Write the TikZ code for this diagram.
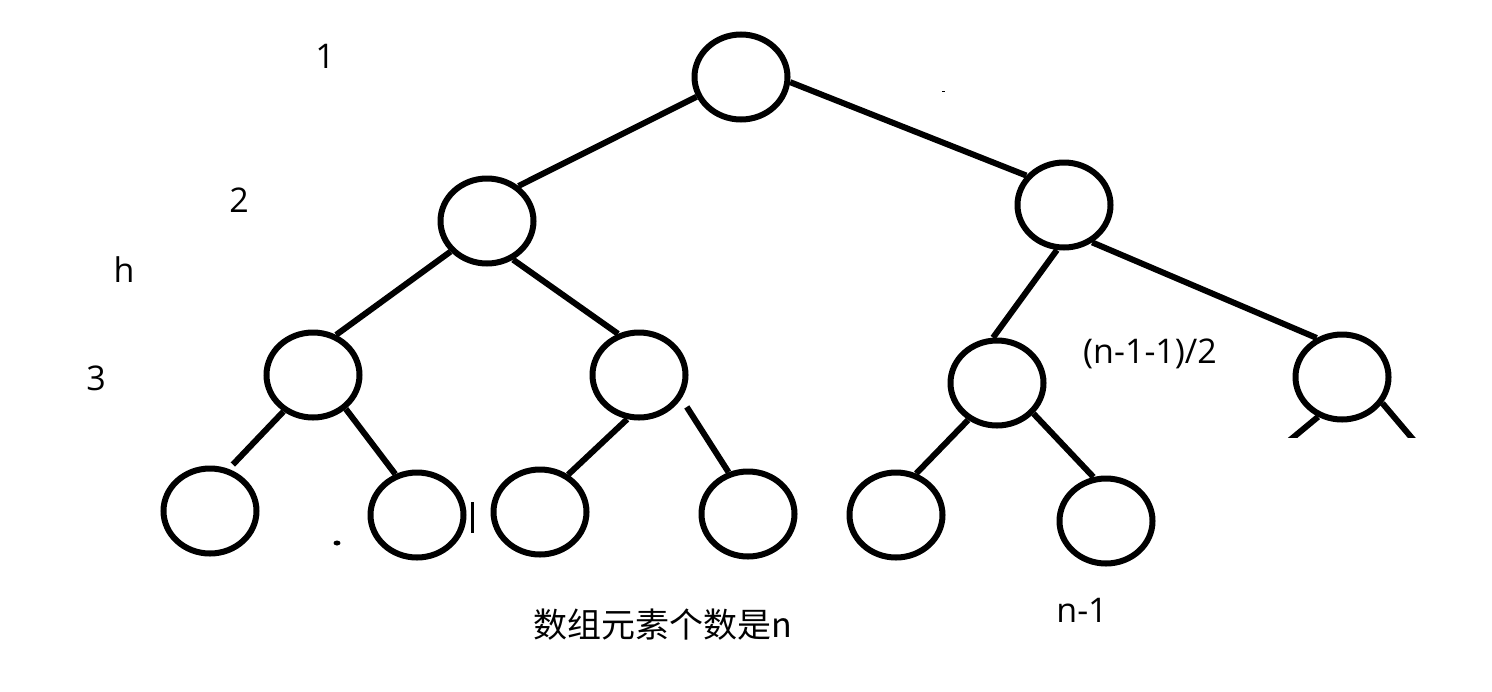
\documentclass[tikz,border=0pt]{standalone}
\usepackage{fontspec}
\setmainfont{Open Sans}
\newfontfamily\cjk{Noto Sans CJK SC}
\usetikzlibrary{shapes.geometric}
\begin{document}
\begin{tikzpicture}[x=0.5pt,y=-0.5pt,
  treenode/.style={ellipse,draw=black,line width=3pt,minimum width=46.5pt,minimum height=42.5pt,inner sep=0pt},
  edge/.style={draw=black,line width=3pt},
  lbl/.style={font=\fontsize{17}{20}\selectfont,anchor=base,inner sep=0pt,text=black}]
\useasboundingbox (0,0) rectangle (1492,691);
\fill[white] (0,0) rectangle (1492,691);
% nodes
\node[treenode] (r) at (741,77) {};
\node[treenode] (a) at (487,221) {};
\node[treenode] (b) at (1064,205) {};
\node[treenode] (c) at (313,375) {};
\node[treenode] (d) at (639,375) {};
\node[treenode] (e) at (997,383) {};
\node[treenode] (f) at (1342,377) {};
\node[treenode] (g) at (210,511) {};
\node[treenode] (h) at (417,515) {};
\node[treenode] (i) at (540,512) {};
\node[treenode] (j) at (748,514) {};
\node[treenode] (k) at (896,515) {};
\node[treenode] (l) at (1106,521) {};
% edges
\draw[edge] (r.204) -- (a.48);
\draw[edge] (r.354) -- (b.142);
\draw[edge] (a.220) -- (c.60);
\draw[edge] (a.304) -- (d.117);
\draw[edge] (b.261) -- (e.95);
\draw[edge] (b.307) -- (f.123);
\draw[edge,shorten >=3pt] (c.231) -- (g.66);
\draw[edge] (c.314) -- (h.118);
\draw[edge] (d.255) -- (i.53);
\draw[edge,shorten <=5pt] (d.331) -- (j.115);
\draw[edge] (e.232) -- (k.64);
\draw[edge] (e.320) -- (l.106);
% stubs below the far right node, cut off flat
\coordinate (fl) at (1278,450);
\coordinate (fr) at (1422,450);
\begin{scope}
\clip (0,0) rectangle (1492,437);
\draw[edge] (f.239) -- (fl);
\draw[edge] (f.327) -- (fr);
\end{scope}
% small marks
\fill[black] (337,543) ellipse [x radius=3.5, y radius=2.5];
\fill[black] (470.5,502) rectangle (473.5,533);
\fill[black] (942,90.5) rectangle (945,92);
% labels
\node[lbl] (t1) at (325,68) {1};
\node[lbl] (t2) at (239,212) {2};
\node[lbl] (th) at (124,282) {h};
\node[lbl] (t3) at (96,390) {3};
\node[lbl] (tn) at (1150,363) {(n-1-1)/2};
\node[lbl] (tn1) at (1082,622) {n-1};
\node[lbl] (tc) at (663,637) {\cjk 数组元素个数是n};
\end{tikzpicture}
\end{document}
